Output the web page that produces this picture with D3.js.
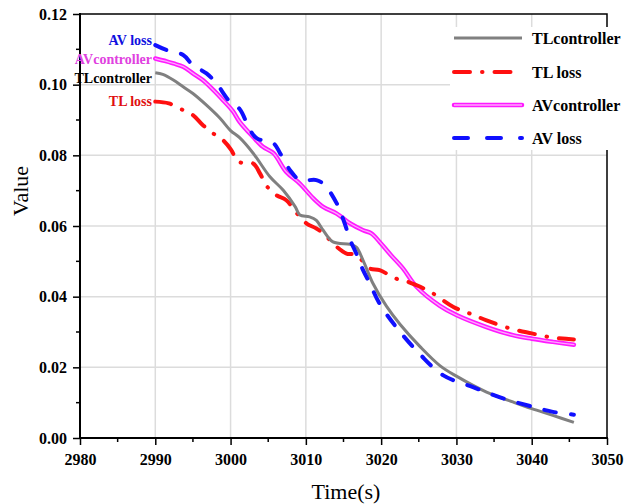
<!DOCTYPE html>
<html>
<head>
<meta charset="utf-8">
<script src="https://d3js.org/d3.v7.min.js"></script>
<style>
  body { margin: 0; background: #fff; }
  svg { display: block; }
  text { font-family: 'Liberation Serif', 'Times New Roman', serif; }
</style>
</head>
<body>
<svg id="chart" width="625" height="504"></svg>
<script>
// values
var tlCtrlT = [2990, 2991, 2992.4, 2993.7, 2995, 2996.8, 2998.6, 3000, 3001.2, 3003, 3005.2, 3007, 3008.6, 3009.2, 3010.5, 3011.4, 3012.3, 3013.6, 3015.9, 3016.7, 3017.6, 3018.9, 3020.7, 3022.5, 3025.2, 3027.8, 3030, 3034, 3037.5, 3040, 3042.8, 3045.6]
var tlCtrlV = [0.1034, 0.1029, 0.1013, 0.0994, 0.0975, 0.0942, 0.0905, 0.0870, 0.0850, 0.0806, 0.0740, 0.0701, 0.0654, 0.0631, 0.0626, 0.0616, 0.0588, 0.0555, 0.0548, 0.0540, 0.0503, 0.0438, 0.0373, 0.0322, 0.0258, 0.0205, 0.0175, 0.0130, 0.0102, 0.0083, 0.0064, 0.0044]

var tlLossT = [2990, 2991.8, 2993.7, 2995, 2996.3, 2997.7, 2999, 3000.1, 3001, 3003, 3003.9, 3004.8, 3006.1, 3007.4, 3008.8, 3010.1, 3011.4, 3012.3, 3014.1, 3015.4, 3016.3, 3017.2, 3018.5, 3019.8, 3022, 3023.8, 3025.2, 3026.9, 3029.6, 3031.8, 3034, 3037.1, 3040, 3042.8, 3045.6]
var tlLossV = [0.0952, 0.0947, 0.0928, 0.0914, 0.0886, 0.0862, 0.0843, 0.0815, 0.0782, 0.0777, 0.0749, 0.0713, 0.0687, 0.0673, 0.0636, 0.0607, 0.0593, 0.0579, 0.0541, 0.0522, 0.0520, 0.0508, 0.0480, 0.0475, 0.0451, 0.0440, 0.0428, 0.0409, 0.0371, 0.0352, 0.0333, 0.0310, 0.0296, 0.0284, 0.0279]

var avCtrlT = [2990, 2991.5, 2992.4, 2993.7, 2995, 2996.3, 2997.7, 2999, 3000.3, 3001.2, 3003, 3004.3, 3005.7, 3007.4, 3009.2, 3011, 3012.3, 3014.1, 3015.9, 3017.6, 3018.7, 3019.8, 3021.2, 3022.9, 3024.7, 3027.8, 3030, 3034, 3037.5, 3040, 3042.8, 3045.6]
var avCtrlV = [0.1074, 0.1066, 0.1060, 0.1051, 0.1032, 0.1013, 0.0985, 0.0956, 0.0925, 0.0895, 0.0852, 0.0824, 0.0806, 0.0753, 0.0720, 0.0678, 0.0654, 0.0635, 0.0607, 0.0588, 0.0579, 0.0555, 0.0520, 0.0480, 0.0428, 0.0374, 0.0348, 0.0314, 0.0291, 0.0281, 0.0272, 0.0264]

var avLossT = [2990, 2991.5, 2993.7, 2995, 2996.8, 2998.1, 2999.9, 3001.2, 3002.6, 3003.5, 3005.7, 3006.6, 3007.9, 3009.2, 3011.4, 3012.5, 3014.1, 3015, 3015.9, 3016.7, 3017.6, 3018.5, 3019.8, 3022, 3025.2, 3028.2, 3032.2, 3036.2, 3040.2, 3042.8, 3045.6]
var avLossV = [0.1112, 0.1098, 0.1084, 0.1055, 0.1032, 0.1004, 0.0952, 0.0931, 0.0871, 0.0848, 0.0834, 0.0805, 0.0758, 0.0730, 0.0730, 0.0716, 0.0664, 0.0617, 0.0560, 0.0522, 0.0475, 0.0437, 0.0380, 0.0314, 0.0236, 0.0178, 0.0144, 0.0112, 0.0088, 0.0074, 0.0066]

var xTicks = [2980, 2990, 3000, 3010, 3020, 3030, 3040, 3050]
var yTicks = [0, 0.02, 0.04, 0.06, 0.08, 0.10, 0.12]
var seriesNames = ['TLcontroller', 'TL loss', 'AVcontroller', 'AV loss']

var svg = d3.select('#chart')
var pLeft = 80, pRight = 607, pTop = 14, pBottom = 438

var x = d3.scaleLinear().domain([2980, 3050]).range([pLeft, pRight])
var y = d3.scaleLinear().domain([0, 0.12]).range([pBottom, pTop])

// grid
var grid = svg.append('g').attr('stroke', '#dcdcdc').attr('stroke-width', 1.5)
grid.selectAll('.gx').data(xTicks.slice(1, -1)).enter().append('line')
  .attr('x1', d => x(d)).attr('x2', d => x(d)).attr('y1', pTop).attr('y2', pBottom)
grid.selectAll('.gy').data(yTicks.slice(1, -1)).enter().append('line')
  .attr('x1', pLeft).attr('x2', pRight).attr('y1', d => y(d)).attr('y2', d => y(d))

// frame top / right
svg.append('path').attr('d', 'M' + pLeft + ',' + pTop + 'H' + pRight + 'V' + pBottom)
  .attr('fill', 'none').attr('stroke', '#000').attr('stroke-width', 1.5)

// axes
var xAxis = d3.axisBottom(x).tickValues(xTicks).tickSize(7).tickPadding(9).tickFormat(d3.format('d'))
var yAxis = d3.axisLeft(y).tickValues(yTicks).tickSize(7).tickPadding(6).tickFormat(d3.format('.2f'))

var gx = svg.append('g').attr('transform', 'translate(0,' + pBottom + ')').call(xAxis)
var gy = svg.append('g').attr('transform', 'translate(' + pLeft + ',0)').call(yAxis)

// minor ticks
var xMinor = d3.range(2985, 3050, 10)
var yMinor = d3.range(0.01, 0.12, 0.02)
gx.selectAll('.minor').data(xMinor).enter().append('line')
  .attr('x1', d => x(d)).attr('x2', d => x(d)).attr('y1', 0).attr('y2', 4)
  .attr('stroke', '#000').attr('stroke-width', 1.5)
gy.selectAll('.minor').data(yMinor).enter().append('line')
  .attr('y1', d => y(d)).attr('y2', d => y(d)).attr('x1', 0).attr('x2', -4)
  .attr('stroke', '#000').attr('stroke-width', 1.5)

;[gx, gy].forEach(function (g) {
  g.select('.domain').remove()
  g.selectAll('.tick line').attr('stroke-width', 1.5)
  g.selectAll('.tick text').attr('font-family', 'Liberation Serif').attr('font-weight', 'bold')
    .attr('font-size', 16).attr('fill', '#000')
})
svg.append('line').attr('x1', pLeft).attr('x2', pRight + 1).attr('y1', pBottom).attr('y2', pBottom)
  .attr('stroke', '#000').attr('stroke-width', 2)
svg.append('line').attr('x1', pLeft).attr('x2', pLeft).attr('y1', pTop - 1).attr('y2', pBottom + 1)
  .attr('stroke', '#000').attr('stroke-width', 2)

// axis titles
svg.append('text').attr('x', 346).attr('y', 499).attr('text-anchor', 'middle')
  .attr('font-size', 22).text('Time(s)')
svg.append('text').attr('transform', 'translate(28,191) rotate(-90)').attr('text-anchor', 'middle')
  .attr('font-size', 22).text('Value')

// series
var line = d3.line().x(d => x(d[0])).y(d => y(d[1])).curve(d3.curveCatmullRom.alpha(0.5))
function pts(t, v) { return t.map((d, i) => [d, v[i]]) }

var plot = svg.append('g').attr('fill', 'none').attr('stroke-linecap', 'round')

plot.append('path').attr('d', line(pts(avCtrlT, avCtrlV)))
  .attr('stroke', '#ff1aff').attr('stroke-width', 4.5)
plot.append('path').attr('d', line(pts(avCtrlT, avCtrlV)))
  .attr('stroke', '#ffa8ff').attr('stroke-width', 1.3)

plot.append('path').attr('d', line(pts(tlLossT, tlLossV)))
  .attr('stroke', '#ff1010').attr('stroke-width', 4).attr('stroke-dasharray', '16,12,0.5,12')

plot.append('path').attr('d', line(pts(tlCtrlT, tlCtrlV)))
  .attr('stroke', '#808080').attr('stroke-width', 3).attr('stroke-linecap', 'butt')

plot.append('path').attr('d', line(pts(avLossT, avLossV)))
  .attr('stroke', '#1010ff').attr('stroke-width', 4).attr('stroke-dasharray', '12,15')

// legend
var lg = svg.append('g')
lg.append('rect').attr('x', 450).attr('y', 27).attr('width', 176).attr('height', 123).attr('fill', '#fff')
var rows = [38, 72, 105, 138]
var styles = [
  { stroke: '#808080', w: 3, dash: null },
  { stroke: '#ff1010', w: 4, dash: '16,12,0.5,12' },
  { stroke: '#ff1aff', w: 4.5, dash: null, inner: '#ffa8ff' },
  { stroke: '#1010ff', w: 4, dash: '14,19' }
]
seriesNames.forEach(function (n, i) {
  var s = styles[i]
  var ln = lg.append('line').attr('x1', 454).attr('x2', 522).attr('y1', rows[i]).attr('y2', rows[i])
    .attr('stroke', s.stroke).attr('stroke-width', s.w).attr('stroke-linecap', i === 0 ? 'butt' : 'round')
  if (s.dash) ln.attr('stroke-dasharray', s.dash)
  if (s.inner) lg.append('line').attr('x1', 454).attr('x2', 522).attr('y1', rows[i]).attr('y2', rows[i])
    .attr('stroke', s.inner).attr('stroke-width', 1.3)
  lg.append('text').attr('x', 532).attr('y', rows[i] + 5.5).attr('font-size', 16)
    .attr('font-weight', 'bold').text(n)
})

// labels at the curve starts
var labels = [
  { t: 'AV loss', c: '#1010e0', yy: 45 },
  { t: 'AVcontroller', c: '#e040e0', yy: 64 },
  { t: 'TLcontroller', c: '#000', yy: 83 },
  { t: 'TL loss', c: '#e01010', yy: 106 }
]
svg.selectAll('.lab').data(labels).enter().append('text')
  .attr('x', 152).attr('y', d => d.yy).attr('text-anchor', 'end')
  .attr('font-size', 14).attr('font-weight', 'bold').attr('fill', d => d.c).text(d => d.t)
</script>
</body>
</html>
